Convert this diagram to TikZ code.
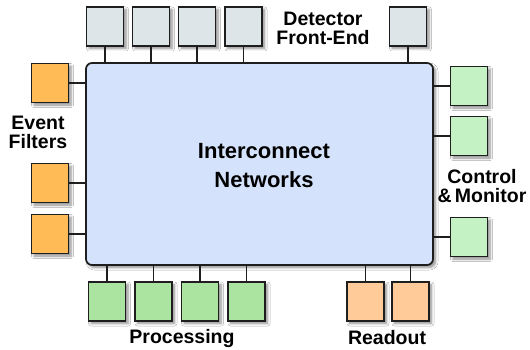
\documentclass[tikz,border=0pt]{standalone}
\usepackage{fontspec}
\setmainfont{Liberation Sans}
\usetikzlibrary{shadows.blur}
\definecolor{netfill}{HTML}{D5E2FB}
\definecolor{grayfill}{HTML}{DDE5E8}
\definecolor{orangefill}{HTML}{FFBB55}
\definecolor{greenlight}{HTML}{C4F2C4}
\definecolor{greenmid}{HTML}{AAE4A0}
\definecolor{readfill}{HTML}{FFCC99}
\definecolor{edge}{HTML}{1E1E1E}
\tikzset{
  shad/.style={blur shadow={shadow xshift=2.5pt,shadow yshift=-2.5pt,shadow blur steps=6,shadow blur radius=2.5pt,shadow opacity=45}},
  unit/.style={draw=edge,line width=1.7pt,minimum width=37pt,minimum height=39pt,inner sep=0pt,shad},
  gbox/.style={unit,fill=grayfill},
  obox/.style={unit,fill=orangefill},
  lgbox/.style={unit,fill=greenlight},
  mgbox/.style={unit,fill=greenmid},
  rbox/.style={unit,fill=readfill},
  lab/.style={font=\bfseries\fontsize{19.5}{19}\selectfont,align=center,inner sep=0pt},
  wire/.style={draw=edge,line width=1.6pt},
}
\begin{document}
\begin{tikzpicture}[x=1pt,y=-1pt]
\useasboundingbox[fill=white] (0,0) rectangle (530,350);
\node[draw=edge,line width=1.7pt,fill=netfill,rounded corners=6pt,minimum width=347pt,minimum height=202pt,inner sep=0pt,shad] (net) at (259.5,164) {};
\node[font=\bfseries\fontsize{22}{29}\selectfont,align=center,inner sep=0pt] (netlab) at (264,166) {Interconnect\\Networks};
% top
\node[gbox] (t1) at (105,26.5) {};
\node[gbox] (t2) at (151,26.5) {};
\node[gbox] (t3) at (197,26.5) {};
\node[gbox] (t4) at (243.5,26.5) {};
\node[gbox] (t5) at (408,26.5) {};
\foreach \n in {t1,t2,t3,t4,t5} \draw[wire] (\n.south) -- (\n.south |- net.north);
% left
\node[obox] (l1) at (50,83) {};
\node[obox] (l2) at (50,183) {};
\node[obox] (l3) at (50,234) {};
\foreach \n in {l1,l2,l3} \draw[wire] (\n.east) -- (\n.east -| net.west);
% right
\node[lgbox] (r1) at (469,86) {};
\node[lgbox] (r2) at (469,136) {};
\node[lgbox] (r3) at (469,237) {};
\foreach \n in {r1,r2,r3} \draw[wire] (\n.west) -- (\n.west -| net.east);
% bottom
\node[mgbox] (b1) at (107,301.5) {};
\node[mgbox] (b2) at (153.5,301.5) {};
\node[mgbox] (b3) at (200,301.5) {};
\node[mgbox] (b4) at (246.5,301.5) {};
\node[rbox] (b5) at (365.5,301.5) {};
\node[rbox] (b6) at (410.5,301.5) {};
\foreach \n in {b1,b2,b3,b4,b5,b6} \draw[wire] (\n.north) -- (\n.north |- net.south);
% labels
\node[lab] (ldet) at (323,28) {Detector\\Front-End};
\node[lab] (lev) at (38,132) {Event\\Filters};
\node[lab] (lcm) at (482,186) {Control\\\&\,Monitor};
\node[lab] (lproc) at (182,338) {Processing};
\node[lab] (lread) at (387,338) {Readout};
\end{tikzpicture}
\end{document}
